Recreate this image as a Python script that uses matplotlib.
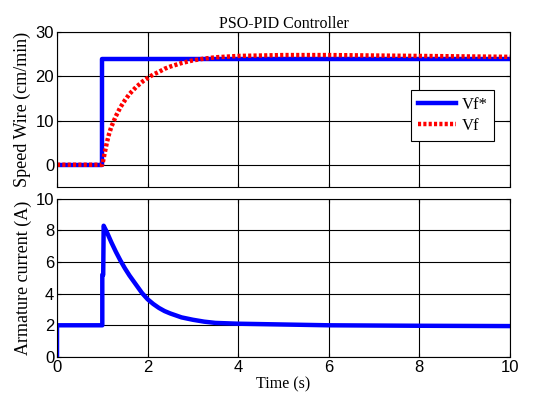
import matplotlib
matplotlib.use("Agg")
import matplotlib.pyplot as plt
import numpy as np

# speed reference (step at t=1 s) and measured wire speed
t_ref = [0.0, 1.0, 1.0, 10.0]
vf_ref = [0.0, 0.0, 24.0, 24.0]

t_vf = [0.0, 1.0, 1.05, 1.1, 1.15, 1.2, 1.3, 1.4, 1.5, 1.6, 1.75, 1.9, 2.0, 2.125, 2.25,
        2.375, 2.5, 2.75, 3.0, 3.25, 3.5, 4.0, 4.5, 5.0, 6.0, 7.0, 8.0, 9.0, 10.0]
vf = [0.0, 0.0, 2.5, 5.0, 7.0, 8.6, 11.0, 13.0, 14.6, 16.0, 17.6, 18.9, 19.6, 20.4, 21.0,
      21.7, 22.2, 23.0, 23.6, 24.0, 24.3, 24.6, 24.7, 24.8, 24.8, 24.7, 24.6, 24.5, 24.4]

# armature current
t_ia = [0.0, 0.0, 1.0, 1.0, 1.02, 1.03, 1.1, 1.2, 1.3, 1.4, 1.5, 1.6, 1.75, 1.875, 2.0,
        2.125, 2.25, 2.375, 2.5, 2.75, 3.0, 3.25, 3.5, 4.0, 5.0, 6.0, 8.0, 10.0]
ia = [0.0, 2.0, 2.0, 5.2, 5.2, 8.3, 7.9, 7.25, 6.65, 6.1, 5.6, 5.15, 4.55, 4.05, 3.65,
      3.35, 3.1, 2.9, 2.75, 2.5, 2.35, 2.23, 2.15, 2.1, 2.05, 2.0, 1.97, 1.95]

serif = "Liberation Serif"
plt.rcParams["font.family"] = "Liberation Sans"
plt.rcParams["font.size"] = 12

fig = plt.figure(figsize=(5.43, 4.01), dpi=100)
ax1 = fig.add_axes([0.105, 0.534, 0.834, 0.386])
ax2 = fig.add_axes([0.105, 0.110, 0.834, 0.394])

for ax in (ax1, ax2):
    ax.set_xlim(0, 10)
    ax.set_xticks(range(0, 11, 2))
    ax.grid(True, color="black", linewidth=0.8)
    ax.tick_params(direction="in", top=True, right=True, length=3, pad=2)
    for s in ax.spines.values():
        s.set_linewidth(0.8)

ax1.plot(t_ref, vf_ref, color="#0000ff", linewidth=3.2, label="Vf*")
ax1.plot(t_vf, vf, color="#ff0000", linewidth=3.2, linestyle=(0, (0.7, 0.5)), label="Vf")
ax1.set_ylim(-5, 30)
ax1.set_yticks([0, 10, 20, 30])
ax1.set_xticklabels([])
ax1.set_title("PSO-PID Controller", family=serif, fontsize=11.5, pad=3)
ax1.set_ylabel("Speed Wire (cm/min)", family=serif, fontsize=13, labelpad=3)
leg = ax1.legend(loc="center right", bbox_to_anchor=(0.965, 0.46), borderaxespad=0,
                 fancybox=False, framealpha=1, edgecolor="black",
                 prop={"family": serif, "size": 12}, handlelength=2.3, borderpad=0.4,
                 labelspacing=0.3, handletextpad=0.3)
leg.get_frame().set_linewidth(0.8)

ax2.plot(t_ia, ia, color="#0000ff", linewidth=3.2)
ax2.set_ylim(0, 10)
ax2.set_yticks(range(0, 11, 2))
ax2.set_ylabel("Armature current (A)", family=serif, fontsize=13, labelpad=3)
ax2.set_xlabel("Time (s)", family=serif, fontsize=11.5, labelpad=1)

fig.savefig("out.png", dpi=100)
